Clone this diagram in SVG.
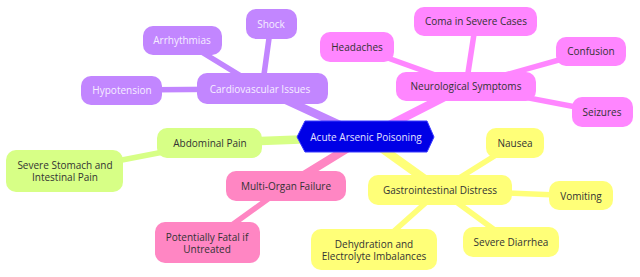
<svg xmlns="http://www.w3.org/2000/svg" width="640" height="277" viewBox="0 0 640 277">
<style>
text{font-family:"Open Sans","Liberation Sans",sans-serif;font-size:10px;text-anchor:middle;dominant-baseline:central;fill:#333}
.e{fill:none;stroke-linecap:round}
.m{stroke-width:8.5}
.s{stroke-width:5.5}
.c1{fill:#c286ff}.k1{stroke:#c286ff}
.c2{fill:#ff86ff}.k2{stroke:#ff86ff}
.c3{fill:#d7ff86}.k3{stroke:#d7ff86}
.c4{fill:#ff86c3}.k4{stroke:#ff86c3}
.c5{fill:#ffff78}.k5{stroke:#ffff78}
.lt{fill:#f6eeff}
</style>
<g id="connectors">
<line class="e s k1" x1="262" y1="89" x2="271" y2="24"/>
<line class="e s k1" x1="262" y1="89" x2="182" y2="40"/>
<line class="e s k1" x1="262" y1="89" x2="122" y2="90"/>
<line class="e s k2" x1="466" y1="86" x2="476" y2="21"/>
<line class="e s k2" x1="466" y1="86" x2="357" y2="47"/>
<line class="e s k2" x1="466" y1="86" x2="591" y2="51"/>
<line class="e s k2" x1="466" y1="86" x2="602" y2="112"/>
<line class="e s k3" x1="210" y1="143" x2="65" y2="171"/>
<line class="e s k4" x1="286" y1="186" x2="207" y2="243"/>
<line class="e s k5" x1="440" y1="190" x2="515" y2="143"/>
<line class="e s k5" x1="440" y1="190" x2="581" y2="196"/>
<line class="e s k5" x1="440" y1="190" x2="511" y2="242"/>
<line class="e s k5" x1="440" y1="190" x2="374" y2="249"/>
<line class="e m k1" x1="366" y1="137" x2="262" y2="89"/>
<line class="e m k2" x1="366" y1="137" x2="466" y2="86"/>
<line class="e m k3" x1="366" y1="137" x2="210" y2="143"/>
<line class="e m k4" x1="366" y1="137" x2="286" y2="186"/>
<line class="e m k5" x1="366" y1="137" x2="440" y2="190"/>
</g>
<g id="root">
<polygon points="305,121 427,121 434,137 427,152 305,152 297,137" fill="#0000e6" stroke="#3a3aff" stroke-width="1"/>
<text x="366" y="137" style="fill:#e4e0ff">Acute Arsenic Poisoning</text>
</g>
<g id="cardio"><rect class="c1" x="197" y="73" width="131" height="31" rx="10"/><text class="lt" x="260" y="89">Cardiovascular Issues</text></g>
<g id="shock"><rect class="c1" x="246" y="9" width="51" height="30" rx="10"/><text class="lt" x="271" y="24">Shock</text></g>
<g id="arrhythmias"><rect class="c1" x="143" y="26" width="79" height="29" rx="10"/><text class="lt" x="182" y="40">Arrhythmias</text></g>
<g id="hypotension"><rect class="c1" x="81" y="76" width="81" height="29" rx="10"/><text class="lt" x="122" y="90">Hypotension</text></g>
<g id="neuro"><rect class="c2" x="396" y="72" width="140" height="29" rx="10"/><text x="466" y="86">Neurological Symptoms</text></g>
<g id="coma"><rect class="c2" x="414" y="7" width="123" height="29" rx="10"/><text x="476" y="21">Coma in Severe Cases</text></g>
<g id="headaches"><rect class="c2" x="320" y="32" width="74" height="30" rx="10"/><text x="357" y="47">Headaches</text></g>
<g id="confusion"><rect class="c2" x="556" y="37" width="70" height="29" rx="10"/><text x="591" y="51">Confusion</text></g>
<g id="seizures"><rect class="c2" x="572" y="97" width="61" height="30" rx="10"/><text x="602" y="112">Seizures</text></g>
<g id="abdominal"><rect class="c3" x="157" y="128" width="105" height="30" rx="10"/><text x="210" y="143">Abdominal Pain</text></g>
<g id="stomach"><rect class="c3" x="6" y="150" width="117" height="42" rx="10"/><text x="65" y="164.5">Severe Stomach and</text><text x="65" y="177">Intestinal Pain</text></g>
<g id="multiorgan"><rect class="c4" x="226" y="171" width="120" height="30" rx="10"/><text x="286" y="186">Multi-Organ Failure</text></g>
<g id="fatal"><rect class="c4" x="155" y="222" width="105" height="41" rx="10"/><text x="207" y="236.5">Potentially Fatal if</text><text x="207" y="249">Untreated</text></g>
<g id="gi"><rect class="c5" x="368" y="175" width="144" height="30" rx="10"/><text x="440" y="190">Gastrointestinal Distress</text></g>
<g id="nausea"><rect class="c5" x="486" y="128" width="58" height="30" rx="10"/><text x="515" y="143">Nausea</text></g>
<g id="vomiting"><rect class="c5" x="549" y="181" width="64" height="29" rx="10"/><text x="581" y="196">Vomiting</text></g>
<g id="diarrhea"><rect class="c5" x="463" y="227" width="96" height="30" rx="10"/><text x="511" y="242">Severe Diarrhea</text></g>
<g id="dehydration"><rect class="c5" x="311" y="229" width="126" height="41" rx="10"/><text x="374" y="243.5">Dehydration and</text><text x="374" y="256">Electrolyte Imbalances</text></g>
</svg>
